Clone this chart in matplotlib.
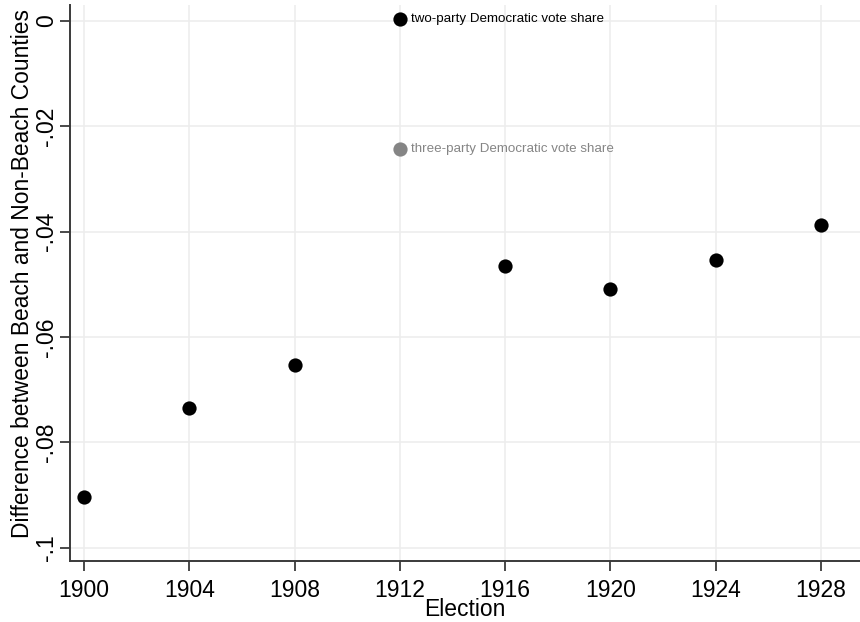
import matplotlib.pyplot as plt

plt.rcParams['font.family'] = ['Liberation Sans', 'DejaVu Sans']

# beach minus non-beach difference by election year
years = [1900, 1904, 1908, 1912, 1916, 1920, 1924, 1928]
diff = [-0.0903, -0.0734, -0.0653, 0.0003, -0.0465, -0.0509, -0.0454, -0.0387]

# 1912 alternative measure (three-party share)
alt_year = [1912]
alt_diff = [-0.0243]

label_two = "two-party Democratic vote share"
label_three = "three-party Democratic vote share"

xticks = [1900, 1904, 1908, 1912, 1916, 1920, 1924, 1928]
yticks = [0, -0.02, -0.04, -0.06, -0.08, -0.1]
ytick_labels = ["0", "-.02", "-.04", "-.06", "-.08", "-.1"]

fig = plt.figure(figsize=(8.6, 6.22), dpi=100)
ax = fig.add_axes([0.0814, 0.0981, 0.9186, 0.894])

ax.scatter(years, diff, s=105, color="black", zorder=3, linewidths=0)
ax.scatter(alt_year, alt_diff, s=105, color="#858585", zorder=3, linewidths=0)

ax.annotate(label_two, (alt_year[0], diff[years.index(1912)]), xytext=(8, 0),
            textcoords="offset points", va="center", ha="left",
            fontsize=9.6, color="black")
ax.annotate(label_three, (alt_year[0], alt_diff[0]), xytext=(8, 0),
            textcoords="offset points", va="center", ha="left",
            fontsize=9.6, color="#858585")

ax.set_xlim(1899.47, 1929.48)
ax.set_ylim(-0.1025, 0.003)
ax.set_xticks(xticks)
ax.set_yticks(yticks)
ax.set_yticklabels(ytick_labels, rotation=90, va="center")

ax.grid(True, color="#ededed", linewidth=1.2)
ax.set_axisbelow(True)
for side in ["top", "right"]:
    ax.spines[side].set_visible(False)
for side in ["left", "bottom"]:
    ax.spines[side].set_color("#3a3a3a")
    ax.spines[side].set_linewidth(1.4)

ax.tick_params(direction="out", length=7, width=1.3, color="#3a3a3a",
               labelsize=16.5, labelcolor="black")
ax.tick_params(axis="x", pad=6)
ax.tick_params(axis="y", pad=1.3)

ax.set_xlabel("Election", fontsize=16.5, labelpad=-3)
ax.set_ylabel("Difference between Beach and Non-Beach Counties", fontsize=16.4)
ax.yaxis.set_label_coords(-0.046, 0.517)

fig.savefig("out.png", dpi=100, facecolor="white")
